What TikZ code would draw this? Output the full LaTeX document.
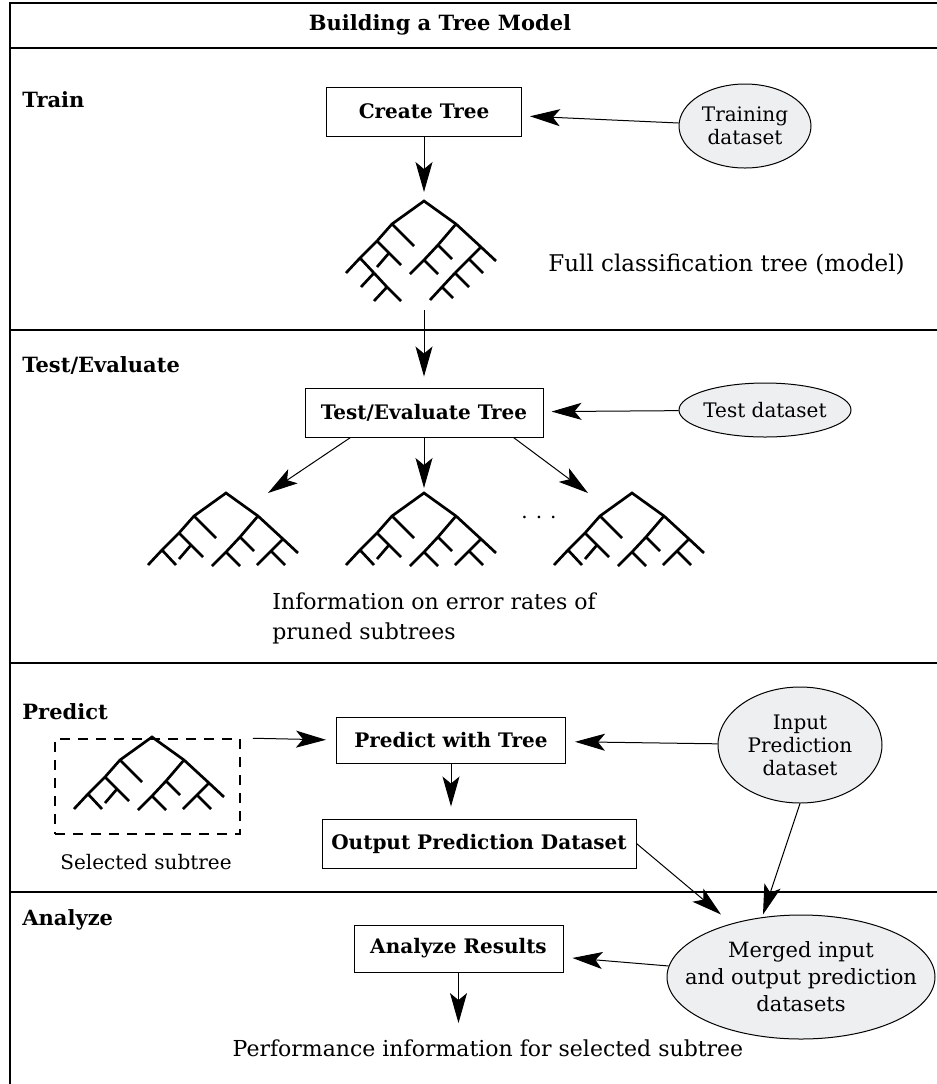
\documentclass[tikz,border=0pt]{standalone}
\usepackage{fontspec}
\setmainfont{DejaVu Serif}
\usetikzlibrary{arrows.meta,shapes.geometric}
\definecolor{ellfill}{RGB}{238,239,241}
\tikzset{
  procbox/.style={draw, line width=0.5pt, font=\bfseries\fontsize{10}{12}\selectfont, minimum height=24.5pt, inner sep=0pt},
  dataell/.style={draw, ellipse, fill=ellfill, line width=0.5pt, inner sep=0pt},
  datatext/.style={align=center, font=\fontsize{10}{11.5}\selectfont, inner sep=0pt},
  seclabel/.style={anchor=west, font=\bfseries\fontsize{10.5}{12}\selectfont, inner sep=0pt},
  caption/.style={font=\fontsize{11}{15}\selectfont, inner sep=0pt},
  arr/.style={-{Stealth[length=15pt,width=8.5pt,inset=3.5pt]}, line width=0.5pt},
  treeline/.style={line width=1.35pt},
  frameline/.style={line width=0.6pt},
  prunedtree/.pic={
    \draw[treeline] (-78,72) -- (-64,57) -- (-47,40) -- (-32,23) -- (0,0) -- (32,23) -- (57,46) -- (72,60);
    \draw[treeline] (-32,23) -- (-10,45);
    \draw[treeline] (-47,40) -- (-23,64) (-35,52) -- (-47,66);
    \draw[treeline] (-64,57) -- (-50,72);
    \draw[treeline] (32,23) -- (14,44) -- (0,59) -- (-14,73) (14,44) -- (28,58) (0,59) -- (14,73);
    \draw[treeline] (57,46) -- (45,58) -- (31,72) (45,58) -- (59,72);
  },
  fulltree/.pic={
    \pic {prunedtree};
    \draw[treeline] (-50,72) -- (-37,86) -- (-23,100) (-50,72) -- (-63,86) (-37,86) -- (-50,100);
    \draw[treeline] (31,72) -- (18,86) -- (6,99) (31,72) -- (45,86) (18,86) -- (29,97);
  }
}

\begin{document}
\begin{tikzpicture}[x=0.5pt,y=-0.5pt]
\useasboundingbox (0,0) rectangle (937,1084);
% frame and section rules
\draw[frameline] (10,1084) -- (10,3) -- (937,3);
\foreach \yy in {48,330,663,892} \draw[frameline] (10,\yy) -- (937,\yy);
\node[font=\bfseries\fontsize{10.5}{12}\selectfont] (title) at (440,25) {Building a Tree Model};

% Train
\node[seclabel] (trainlbl) at (22,100) {Train};
\node[procbox, minimum width=97.5pt] (create) at (424,111.5) {Create Tree};
\node[dataell, minimum width=66pt, minimum height=42pt] (trainset) at (745,126) {};
\node[datatext] (trainsettext) at (trainset) {Training\\dataset};
\coordinate (fullroot) at (424,201);
\pic at (fullroot) {fulltree};
\node[caption, anchor=west, font=\fontsize{11.5}{15}\selectfont] (fullcap) at (548,265) {Full classification tree (model)};
\draw[arr, shorten >=4pt] (trainset) -- (create);
\draw[arr, shorten >=4.5pt] (create) -- (fullroot);

% Test/Evaluate
\coordinate (fullend) at (424,310);
\node[seclabel] (testlbl) at (22,365) {Test/Evaluate};
\node[procbox, minimum width=119pt] (testbox) at (424,412.5) {Test/Evaluate Tree};
\node[dataell, minimum width=86pt, minimum height=27pt] (testset) at (765,410) {};
\node[datatext] (testsettext) at (testset) {Test dataset};
\coordinate (tree1) at (226,493);
\coordinate (tree2) at (424,493);
\coordinate (tree3) at (632,493);
\foreach \tr in {tree1,tree2,tree3} \pic at (\tr) {prunedtree};
\node (dots) at (539,517) {.\hspace{4pt}.\hspace{4pt}.};
\node[caption, anchor=west, align=left] (errcap) at (272,618) {Information on error rates of\\pruned subtrees};
\draw[arr, shorten >=5.5pt] (fullend) -- (testbox);
\draw[arr, shorten >=4pt] (testset) -- (testbox);
\draw[arr] ([xshift=23pt]testbox.south west) -- ([xshift=21pt]tree1);
\draw[arr, shorten >=2.5pt] (testbox.south) -- (tree2);
\draw[arr] ([xshift=-15pt]testbox.south east) -- ([xshift=-22pt]tree3);

% Predict
\node[seclabel] (predictlbl) at (22,712) {Predict};
\node[draw, line width=1pt, dash pattern=on 5pt off 4pt, minimum width=92.5pt, minimum height=47.5pt] (selbox) at (147.5,786.5) {};
\coordinate (selroot) at (152,737);
\pic at (selroot) {prunedtree};
\node[datatext] (seltext) at (146,862) {Selected subtree};
\node[procbox, minimum width=114.5pt, minimum height=23pt] (predict) at (451,740) {Predict with Tree};
\node[dataell, minimum width=82pt, minimum height=58pt] (inset) at (800,745) {};
\node[datatext] (insettext) at (inset) {Input\\Prediction\\dataset};
\node[procbox, minimum width=157pt] (output) at (479,843.5) {Output Prediction Dataset};
\draw[arr, shorten <=6pt, shorten >=5pt] (selbox.north east) -- (predict.west);
\draw[arr, shorten >=4.5pt] (inset) -- (predict);
\draw[arr, shorten >=6pt] (predict.south) -- (predict.south |- output.north);

% Analyze
\node[seclabel] (analyzelbl) at (22,920) {Analyze};
\node[procbox, minimum width=104.5pt, minimum height=23.5pt] (analyze) at (458.5,948.5) {Analyze Results};
\node[dataell, minimum width=134pt, minimum height=62pt] (merged) at (801,977) {};
\node[datatext, font=\fontsize{10.5}{13.5}\selectfont] (mergedtext) at (merged) {Merged input\\and output prediction\\datasets};
\node[caption] (perf) at (488,1048) {Performance information for selected subtree};
\draw[arr] (output.east) -- ([xshift=-40pt]merged.north);
\draw[arr] (inset.south) -- ([xshift=-19pt]merged.north);
\draw[arr, shorten >=4.5pt] (merged) -- (analyze);
\draw[arr, shorten >=8pt] (analyze.south) -- (analyze.south |- perf.north);
\end{tikzpicture}
\end{document}
